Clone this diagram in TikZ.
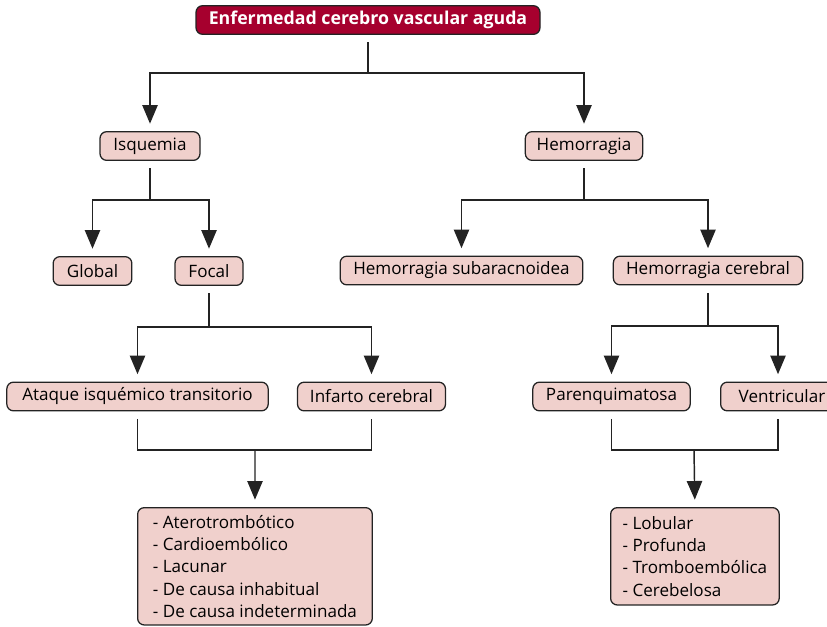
\documentclass[tikz,border=0pt]{standalone}
\usepackage{fontspec}
\setmainfont{Open Sans}
\usetikzlibrary{arrows.meta,positioning}
\definecolor{headred}{RGB}{166,0,46}
\definecolor{boxpink}{RGB}{240,208,204}
\definecolor{ink}{RGB}{35,35,35}
\tikzset{
  box/.style={draw=ink, line width=0.95pt, rounded corners=5pt, fill=boxpink,
    font=\fontsize{12.8}{15}\selectfont, inner sep=0pt, minimum height=21.5pt, text=black},
  headbox/.style={box, fill=headred, text=white, font=\fontsize{13.3}{15}\selectfont\bfseries},
  listbox/.style={box, align=left, anchor=north west, inner xsep=9pt, inner ysep=4pt,
    font=\fontsize{12.8}{16.7}\selectfont},
  ln/.style={draw=ink, line width=1.1pt, shorten <=5.5pt},
  arr/.style={draw=ink, line width=1.1pt, -{Triangle[width=11.5pt,length=14pt]}, shorten >=5.5pt},
}
\begin{document}
\begin{tikzpicture}[x=0.75pt, y=-0.75pt]
\useasboundingbox (0,0) rectangle (827,626);

% boxes
\node[headbox, minimum width=258pt] (top) at (368,20) {Enfermedad cerebro vascular aguda};
\node[box, minimum width=75pt] (isq) at (150,146) {Isquemia};
\node[box, minimum width=88pt] (hem) at (584,146) {Hemorragia};
\node[box, minimum width=59pt] (glo) at (92.5,271) {Global};
\node[box, minimum width=51pt] (foc) at (209,271) {Focal};
\node[box, minimum width=182pt] (sub) at (461.5,270.5) {Hemorragia subaracnoidea};
\node[box, minimum width=142pt] (cer) at (708,270.5) {Hemorragia cerebral};
\node[box, minimum width=196pt] (ait) at (137.5,396.5) {Ataque isquémico transitorio};
\node[box, minimum width=111pt] (inf) at (371.5,396.5) {Infarto cerebral};
\node[box, minimum width=118pt] (par) at (611.5,396.5) {Parenquimatosa};
\node[box, minimum width=90pt, anchor=west] (ven) at (720,396.5) {\hspace{2pt}Ventricular\hspace{14pt}};
\node[listbox, minimum width=176pt, minimum height=88pt] (isqlist) at (137,507)
  {- Aterotrombótico\\- Cardioembólico\\- Lacunar\\- De causa inhabitual\\- De causa indeterminada};
\node[listbox, minimum width=126pt, minimum height=73pt] (hemlist) at (610,507)
  {- Lobular\\- Profunda\\- Tromboembólica\\- Cerebelosa};

% junction points
\coordinate (j0) at (368,73);
\coordinate (j1) at (150,200);
\coordinate (j2) at (584,200);
\coordinate (j3) at (209,327);
\coordinate (j4) at (708,326);
\coordinate (j5) at (255,450);
\coordinate (j6) at (694,450);
\coordinate (venbase) at (778,396.5);

% first level
\draw[ln] (top.south) -- (j0);
\draw[arr] (j0) -| (isq.north);
\draw[arr] (j0) -| (hem.north);

% ischaemia branch
\draw[ln] (isq.south) -- (j1);
\draw[arr] (j1) -| (glo.north);
\draw[arr] (j1) -| (foc.north);
\draw[ln] (foc.south) -- (j3);
\draw[arr] (j3) -| (ait.north);
\draw[arr] (j3) -| (inf.north);

% haemorrhage branch
\draw[ln] (hem.south) -- (j2);
\draw[arr] (j2) -| (sub.north);
\draw[arr] (j2) -| (cer.north);
\draw[ln] (cer.south) -- (j4);
\draw[arr] (j4) -| (par.north);
\draw[arr] (j4) -| (venbase |- ven.north);

% merges into the lists
\draw[ln, shorten >=5.5pt] (ait.south) |- (j5) -| (inf.south);
\draw[arr] (j5) -- (isqlist.north);
\draw[ln, shorten >=5.5pt] (par.south) |- (j6) -| (venbase |- ven.south);
\draw[arr] (j6) -- (hemlist.north);
\end{tikzpicture}
\end{document}
